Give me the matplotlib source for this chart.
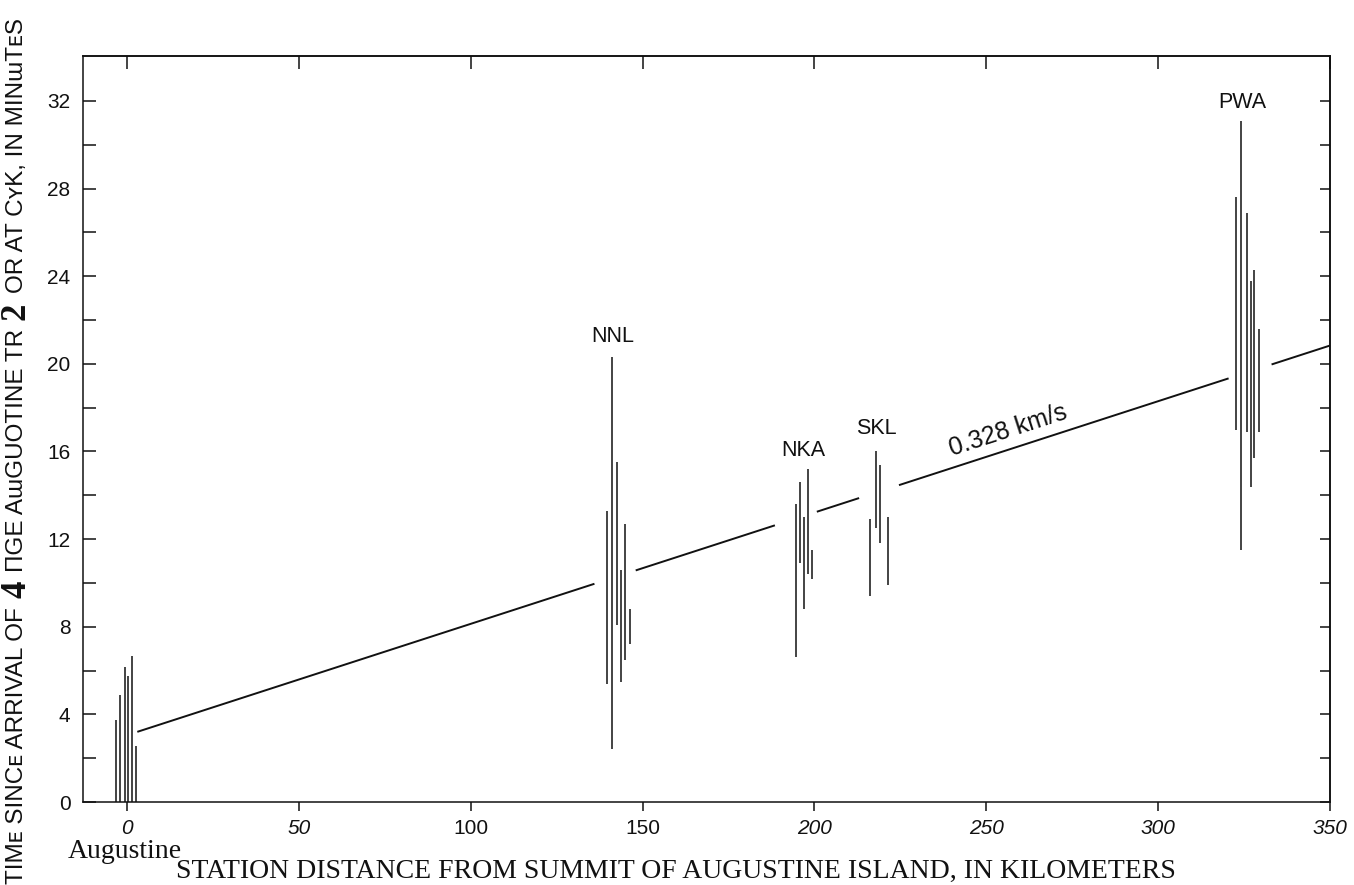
import numpy as np
import matplotlib
matplotlib.use("Agg")
import matplotlib.pyplot as plt
import matplotlib.transforms as mtransforms

# ---- data -------------------------------------------------------------
# Augustine (summit) traces: distance (km), top of trace (min); all start at 0
aug_dist = [-3.3, -1.9, -0.7, 0.4, 1.4, 2.7]
aug_top = [3.75, 4.9, 6.15, 5.75, 6.65, 2.55]

# Station trace bundles: distance (km), bottom and top of each trace (min)
nnl_dist = [139.6, 141.0, 142.5, 143.6, 144.9, 146.3]
nnl_lo = [5.4, 2.4, 8.1, 5.5, 6.5, 7.2]
nnl_hi = [13.3, 20.3, 15.5, 10.6, 12.7, 8.8]

nka_dist = [194.5, 195.8, 196.9, 198.0, 199.4]
nka_lo = [6.6, 10.9, 8.8, 10.4, 10.2]
nka_hi = [13.6, 14.6, 13.0, 15.2, 11.5]

skl_dist = [216.1, 217.8, 219.1, 221.5]
skl_lo = [9.4, 12.5, 11.8, 9.9]
skl_hi = [12.9, 16.0, 15.4, 13.0]

pwa_dist = [322.7, 324.1, 325.8, 326.9, 327.9, 329.4]
pwa_lo = [17.0, 11.5, 16.9, 14.4, 15.7, 16.9]
pwa_hi = [27.6, 31.1, 26.9, 23.8, 24.3, 21.6]

# Station names and label anchor points (km, min)
station_names = ["NNL", "NKA", "SKL", "PWA"]
station_label_dist = [141.4, 196.7, 218.0, 324.4]
station_label_time = [21.25, 16.05, 17.05, 31.95]

# Travel-time line: velocity and intercept; drawn in pieces between bundles
velocity_kms = 0.328
intercept_min = 3.05
line_pieces = [(3.0, 136.0), (148.0, 188.5), (200.7, 213.0), (224.6, 320.5), (333.0, 350.0)]
velocity_label = "0.328 km/s"
velocity_label_dist = 257.5

x_ticks = [0, 50, 100, 150, 200, 250, 300, 350]
x_tick_labels = ["0", "50", "100", "150", "200", "250", "300", "350"]
x_tick_italic = [True, True, False, False, True, True, True, True]
y_ticks = [0, 4, 8, 12, 16, 20, 24, 28, 32]
y_minor = [2, 6, 10, 14, 18, 22, 26, 30]
y_right = list(range(0, 34, 2))

xlabel = "STATION DISTANCE FROM SUMMIT OF AUGUSTINE ISLAND, IN KILOMETERS"
origin_label = "Augustine"
ylabel_pieces = ["TIMᴇ SINCᴇ ARRIVAL OF", "4", "ПGE AɯGUOTINE TR", "2", "OR AT CʏK, IN MINɯTᴇS"]
ylabel_big = [False, True, False, True, False]

# ---- figure -----------------------------------------------------------
W, H = 1354, 885
fig = plt.figure(figsize=(W / 100, H / 100), dpi=100)
ax = fig.add_axes([83 / W, 1 - 802 / H, (1330 - 83) / W, (802 - 56) / H])
ax.set_xlim(-12.8, 350)
ax.set_ylim(0, 34.05)

sans = "Liberation Sans"
serif = "Liberation Serif"
ink = "#111111"

for s in ax.spines.values():
    s.set_linewidth(1.1)
    s.set_color(ink)

# traces
trace_kw = dict(color=ink, linewidth=1.1)
ax.vlines(aug_dist, 0, aug_top, **trace_kw)
for d, lo, hi in [(nnl_dist, nnl_lo, nnl_hi), (nka_dist, nka_lo, nka_hi),
                  (skl_dist, skl_lo, skl_hi), (pwa_dist, pwa_lo, pwa_hi)]:
    ax.vlines(d, lo, hi, **trace_kw)

# travel-time line
slope = 1.0 / (velocity_kms * 60.0)
for a, b in line_pieces:
    xs = np.array([a, b])
    ax.plot(xs, intercept_min + slope * xs, color=ink, linewidth=1.4,
            solid_capstyle="butt")

ax.text(velocity_label_dist, intercept_min + slope * velocity_label_dist + 0.3,
        velocity_label, fontsize=18, family=sans, color=ink,
        rotation=np.degrees(np.arctan(slope)), transform_rotates_text=True,
        rotation_mode="anchor", ha="center", va="bottom")

for name, d, t in zip(station_names, station_label_dist, station_label_time):
    ax.text(d, t, name, fontsize=15.5, family=sans, color=ink,
            ha="center", va="center")

# ticks
ax.set_xticks(x_ticks)
ax.set_xticklabels(x_tick_labels)
for lab, it in zip(ax.get_xticklabels(), x_tick_italic):
    lab.set_fontstyle("italic" if it else "normal")
    lab.set_family(sans)
    lab.set_fontsize(15)
    lab.set_color(ink)
ax.tick_params(axis="x", direction="out", length=6.5, width=1.1, pad=6,
               color=ink)

ax.set_yticks(y_ticks)
ax.set_yticks(y_minor, minor=True)
ax.set_yticklabels([str(v) for v in y_ticks])
for lab in ax.get_yticklabels():
    lab.set_family(sans)
    lab.set_fontsize(15)
    lab.set_color(ink)
ax.tick_params(axis="y", which="both", direction="in", length=9, width=1.1,
               pad=9, color=ink)

top = ax.secondary_xaxis("top")
top.set_xticks(x_ticks)
top.tick_params(direction="in", length=9, width=1.1, labeltop=False, color=ink)
top.spines["top"].set_linewidth(1.1)

right = ax.secondary_yaxis("right")
right.set_yticks(y_right)
right.tick_params(direction="in", length=7.5, width=1.1, labelright=False,
                  color=ink)
right.spines["right"].set_linewidth(1.1)

# axis titles
fig.text(676 / W, 1 - 871 / H, xlabel, family=serif, fontsize=20,
         color=ink, ha="center", va="center")
fig.text(125 / W, 1 - 851 / H, origin_label, family=serif, fontsize=20,
         color=ink, ha="center", va="center")

# rotated y-axis title, laid out piece by piece from the bottom edge
renderer = fig.canvas.get_renderer()
ident = mtransforms.IdentityTransform()
baseline_x = 23
pos_y = 1
for piece, big in zip(ylabel_pieces, ylabel_big):
    if big:
        t = fig.text(baseline_x + 2, pos_y, piece, transform=ident,
                     rotation=90, rotation_mode="anchor", ha="left",
                     va="baseline", family=serif, fontweight="bold",
                     fontsize=25, color=ink)
    else:
        t = fig.text(baseline_x, pos_y, piece, transform=ident, rotation=90,
                     rotation_mode="anchor", ha="left", va="baseline",
                     family=[sans, "DejaVu Sans"], fontsize=17.5, color=ink)
    bb = t.get_window_extent(renderer)
    pos_y = bb.y1 + 9

fig.savefig("out.png", dpi=100)
